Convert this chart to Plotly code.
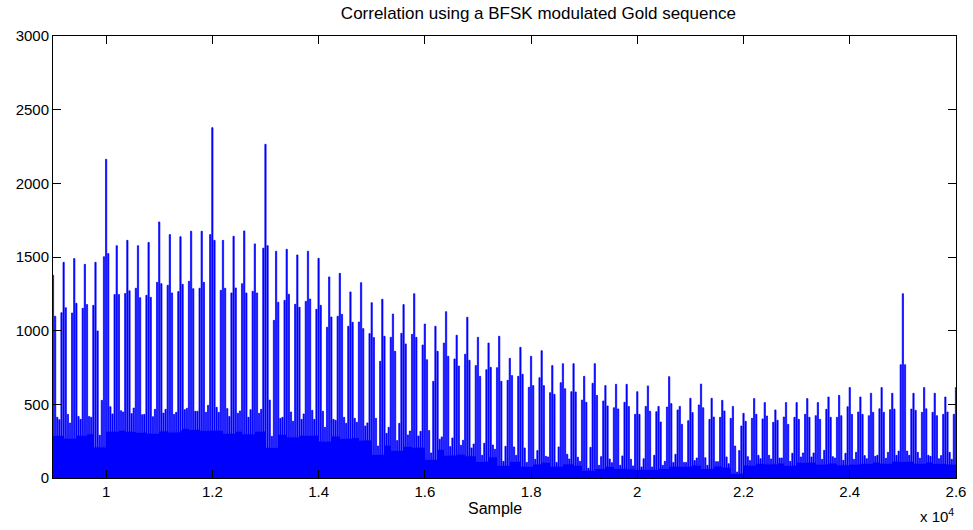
import plotly.graph_objects as go

# Correlation output sampled every 40 samples; one period of the code is 200 samples.
# Each period k starts at sample 9000 + 200*k and holds five values:
#   main_peak (offset 0), side_right (+40), mid_a (+80), mid_b (+120), side_left (+160)
period_start = list(range(9000, 26001, 200))
step = 40

main_peak = [1376, 1464, 1489, 1450, 1464, 2163, 1577, 1613, 1577, 1599,
             1738, 1652, 1638, 1675, 1675, 2378, 1613, 1641, 1677, 1589,
             2265, 1539, 1552, 1514, 1539, 1491, 1365, 1389, 1263, 1326,
             1190, 1213, 1113, 1177, 1251, 1045, 1030, 1129, 969, 1091,
             955, 916, 962, 812, 887, 826, 864, 763, 776, 776,
             690, 776, 627, 636, 636, 586, 625, 486, 688, 486,
             541, 638, 541, 527, 486, 439, 539, 512, 462, 512,
             512, 539, 512, 550, 561, 614, 550, 575, 614, 575,
             1251, 575, 614, 575, 550, 614]
side_right = [1098, 1156, 1186, 1177, 998, 1523, 1245, 1271, 1224, 1226,
              1319, 1256, 1315, 1285, 1328, 1613, 1288, 1290, 1256, 1256,
              1577, 1193, 1247, 1159, 1215, 1172, 1093, 1111, 1057, 1014,
              953, 962, 860, 910, 955, 803, 860, 826, 760, 799,
              690, 751, 656, 695, 704, 627, 627, 568, 606, 584,
              514, 561, 489, 469, 486, 432, 453, 380, 505, 364,
              444, 477, 414, 455, 217, 385, 432, 421, 392, 364,
              398, 412, 398, 412, 423, 432, 432, 446, 446, 468,
              769, 459, 470, 423, 448]
mid_a = [412, 432, 418, 418, 290, 484, 457, 437, 430, 416,
         441, 432, 464, 453, 446, 480, 471, 439, 412, 439,
         529, 405, 448, 398, 459, 453, 398, 412, 405, 353,
         405, 303, 254, 292, 285, 322, 263, 213, 222, 204,
         154, 224, 113, 211, 204, 127, 147, 106, 161, 141,
         66, 86, 129, 86, 127, 75, 75, 86, 106, 106,
         118, 138, 111, 143, 41, 145, 154, 154, 136, 113,
         143, 143, 127, 145, 120, 127, 152, 147, 134, 154,
         183, 174, 154, 131, 174]
mid_b = [396, 373, 398, 412, 527, 435, 448, 475, 432, 466,
         466, 446, 473, 453, 493, 446, 418, 455, 464, 466,
         283, 412, 385, 435, 398, 344, 392, 371, 378, 374,
         217, 344, 371, 319, 317, 170, 279, 272, 256, 231,
         236, 195, 215, 154, 106, 186, 143, 211, 129, 113,
         208, 145, 104, 150, 82, 131, 154, 113, 161, 106,
         136, 86, 111, 97, 186, 118, 131, 129, 136, 168,
         170, 170, 188, 136, 168, 174, 131, 154, 174, 183,
         154, 134, 147, 152, 127]
side_left = [1122, 1120, 1152, 1172, 1502, 1245, 1253, 1288, 1240, 1328,
             1308, 1265, 1335, 1288, 1652, 1274, 1256, 1319, 1267, 1560,
             1070, 1206, 1179, 1199, 1145, 1023, 1098, 1030, 1059, 980,
             792, 955, 982, 975, 903, 656, 916, 808, 840, 763,
             735, 749, 663, 690, 616, 681, 579, 647, 586, 529,
             643, 523, 477, 514, 432, 486, 450, 482, 462, 389,
             496, 398, 412, 405, 353, 405, 401, 378, 414, 412,
             432, 423, 466, 412, 484, 448, 423, 470, 464, 769,
             468, 446, 446, 432, 432]

# Flatten the periods into one sample sequence
sample_x, sample_y = [], []
for k, start in enumerate(period_start):
    if k < len(side_right):
        vals = [main_peak[k], side_right[k], mid_a[k], mid_b[k], side_left[k]]
    else:
        vals = [main_peak[k]]
    for j, v in enumerate(vals):
        sample_x.append(start + j * step)
        sample_y.append(v)

# Outline of the dense correlation trace: a narrow column per sample with a
# shallower dip between neighbouring columns
half_w = 12
n = len(sample_x)
px, py = [sample_x[0] - half_w], [0]
for i in range(n):
    px += [sample_x[i] - half_w, sample_x[i] + half_w]
    py += [sample_y[i], sample_y[i]]
    if i < n - 1:
        dip = 0.72 * min(sample_y[max(0, i - 2):i + 4])
        px += [sample_x[i] + half_w, sample_x[i + 1] - half_w]
        py += [dip, dip]
px.append(sample_x[-1] + half_w)
py.append(0)

fig = go.Figure()
fig.add_trace(go.Scatter(
    x=px, y=py, mode="lines", fill="tozeroy",
    line=dict(color="#0000ff", width=0.7),
    fillcolor="#0000ff", hoverinfo="skip", showlegend=False,
))

font_family = "Liberation Sans, Arial, Helvetica, sans-serif"
x_ticks = list(range(10000, 26001, 2000))
x_ticktext = ["1", "1.2", "1.4", "1.6", "1.8", "2", "2.2", "2.4", "2.6"]
y_ticks = list(range(0, 3001, 500))

axis_style = dict(
    showline=True, linecolor="black", linewidth=1, mirror="allticks",
    ticks="inside", ticklen=8, tickcolor="black", tickwidth=1,
    showgrid=False, zeroline=False,
    tickfont=dict(family=font_family, size=15, color="black"),
)

fig.update_layout(
    width=973, height=530,
    margin=dict(l=53, r=17, t=36, b=52, autoexpand=False),
    paper_bgcolor="white", plot_bgcolor="white",
    font=dict(family=font_family, color="black"),
    xaxis=dict(range=[9000, 26000], tickvals=x_ticks, ticktext=x_ticktext, **axis_style),
    yaxis=dict(range=[0, 3000], tickvals=y_ticks, **axis_style),
    title=dict(
        text="Correlation using a BFSK modulated Gold sequence",
        x=523 / 973, xanchor="center", xref="paper",
        y=1 - 13 / 530, yanchor="middle", yref="container",
        font=dict(family=font_family, size=17, color="black"),
    ),
    annotations=[
        dict(text="Sample", x=476 / 973, y=-30 / 442, xref="paper", yref="paper",
             xanchor="center", yanchor="middle", showarrow=False,
             font=dict(family=font_family, size=16, color="black")),
        dict(text="x 10<sup>4</sup>", x=1.0, y=-37 / 442, xref="paper", yref="paper",
             xanchor="right", yanchor="middle", showarrow=False,
             font=dict(family=font_family, size=15, color="black")),
    ],
)

fig.write_html("out.html")
